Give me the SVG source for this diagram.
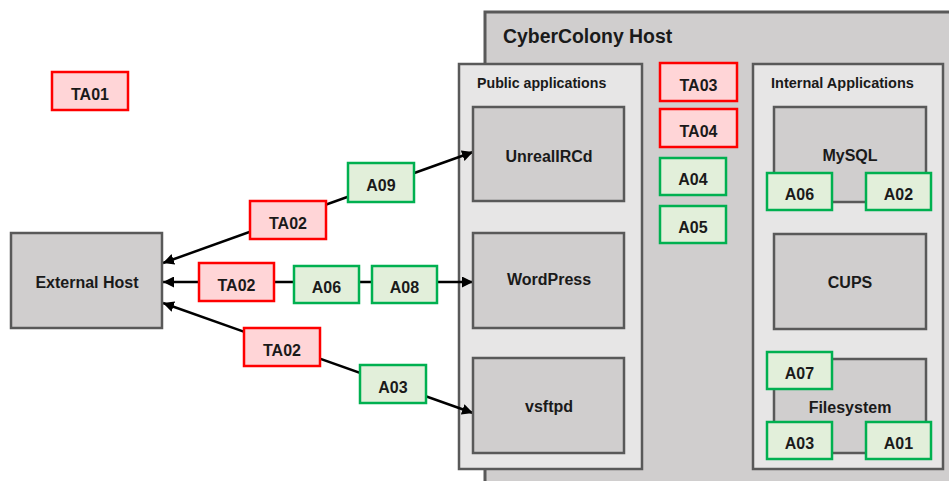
<svg xmlns="http://www.w3.org/2000/svg" width="949" height="481" viewBox="0 0 949 481">
<style>
text{font-family:"Liberation Sans",Arial,sans-serif;font-weight:bold;fill:#1a1a1a;}
.lbl{font-size:16px;text-anchor:middle;}
.red{fill:#FFD5D7;stroke:#FF0000;stroke-width:2.5;}
.grn{fill:#E2EFDA;stroke:#00B050;stroke-width:2.5;}
.app{fill:#D0CECE;stroke:#595959;stroke-width:2.5;}
.grp{fill:#E7E6E6;stroke:#595959;stroke-width:2.5;}
.conn{stroke:#000;stroke-width:2.5;fill:none;}
</style>
<defs>
<marker id="ah" viewBox="0 0 10 10" refX="10" refY="5" markerWidth="4.4" markerHeight="4.4" orient="auto-start-reverse" markerUnits="strokeWidth">
<path d="M0,0 L10,5 L0,10 z" fill="#000"/>
</marker>
</defs>
<rect width="949" height="481" fill="#fff"/>

<g id="cybercolony-host">
<rect x="485" y="12" width="480" height="480" fill="#D0CECE" stroke="#595959" stroke-width="3"/>
<text x="503" y="43" style="font-size:19.4px">CyberColony Host</text>
</g>

<g id="public-applications">
<rect class="grp" x="459" y="64" width="183" height="405"/>
<text x="477" y="88" style="font-size:14.2px">Public applications</text>
</g>
<g id="internal-applications">
<rect class="grp" x="753" y="64" width="190" height="405"/>
<text x="771" y="88" style="font-size:14.5px">Internal Applications</text>
</g>

<g id="connectors">
<line class="conn" x1="163" y1="263" x2="473" y2="152" marker-start="url(#ah)" marker-end="url(#ah)"/>
<line class="conn" x1="163" y1="282" x2="473" y2="282" marker-start="url(#ah)" marker-end="url(#ah)"/>
<line class="conn" x1="163" y1="303" x2="473" y2="413" marker-start="url(#ah)" marker-end="url(#ah)"/>
</g>

<g id="external-host">
<rect class="app" x="11" y="233" width="151" height="95"/>
<text class="lbl" x="87" y="288">External Host</text>
</g>
<g id="unrealircd">
<rect class="app" x="473" y="107" width="151" height="94"/>
<text class="lbl" x="549" y="162">UnrealIRCd</text>
</g>
<g id="wordpress">
<rect class="app" x="473" y="233" width="151" height="95"/>
<text class="lbl" x="549" y="285">WordPress</text>
</g>
<g id="vsftpd">
<rect class="app" x="473" y="358" width="151" height="95"/>
<text class="lbl" x="549" y="412">vsftpd</text>
</g>
<g id="mysql">
<rect class="app" x="774" y="107" width="152" height="95"/>
<text class="lbl" x="850" y="161">MySQL</text>
</g>
<g id="cups">
<rect class="app" x="774" y="234" width="152" height="95"/>
<text class="lbl" x="850" y="288">CUPS</text>
</g>
<g id="filesystem">
<rect class="app" x="774" y="359" width="152" height="94"/>
<text class="lbl" x="850" y="413">Filesystem</text>
</g>

<g id="ta01"><rect class="red" x="52" y="72" width="76" height="38"/><text class="lbl" x="90" y="99.5">TA01</text></g>
<g id="ta02-top"><rect class="red" x="250" y="201" width="76" height="38"/><text class="lbl" x="288" y="228.5">TA02</text></g>
<g id="a09"><rect class="grn" x="348" y="163" width="66" height="39"/><text class="lbl" x="381" y="191">A09</text></g>
<g id="ta02-mid"><rect class="red" x="199" y="263" width="75" height="38"/><text class="lbl" x="236.5" y="290.5">TA02</text></g>
<g id="a06-mid"><rect class="grn" x="294" y="266" width="65" height="37"/><text class="lbl" x="326.5" y="293">A06</text></g>
<g id="a08"><rect class="grn" x="372" y="266" width="65" height="37"/><text class="lbl" x="404.5" y="293">A08</text></g>
<g id="ta02-bot"><rect class="red" x="244" y="328" width="76" height="38"/><text class="lbl" x="282" y="355.5">TA02</text></g>
<g id="a03-bot"><rect class="grn" x="360" y="365" width="66" height="38"/><text class="lbl" x="393" y="392.5">A03</text></g>

<g id="ta03"><rect class="red" x="660" y="63" width="77" height="38"/><text class="lbl" x="698.5" y="90.5">TA03</text></g>
<g id="ta04"><rect class="red" x="660" y="109" width="77" height="38"/><text class="lbl" x="698.5" y="136.5">TA04</text></g>
<g id="a04"><rect class="grn" x="660" y="158" width="66" height="37"/><text class="lbl" x="693" y="185">A04</text></g>
<g id="a05"><rect class="grn" x="660" y="206" width="66" height="37"/><text class="lbl" x="693" y="233">A05</text></g>

<g id="a06-mysql"><rect class="grn" x="767" y="173" width="65" height="37"/><text class="lbl" x="799.5" y="200">A06</text></g>
<g id="a02"><rect class="grn" x="866" y="173" width="65" height="37"/><text class="lbl" x="898.5" y="200">A02</text></g>
<g id="a07"><rect class="grn" x="767" y="352" width="65" height="37"/><text class="lbl" x="799.5" y="379">A07</text></g>
<g id="a03-fs"><rect class="grn" x="767" y="422" width="65" height="37"/><text class="lbl" x="799.5" y="449">A03</text></g>
<g id="a01"><rect class="grn" x="866" y="422" width="65" height="37"/><text class="lbl" x="898.5" y="449">A01</text></g>
</svg>
